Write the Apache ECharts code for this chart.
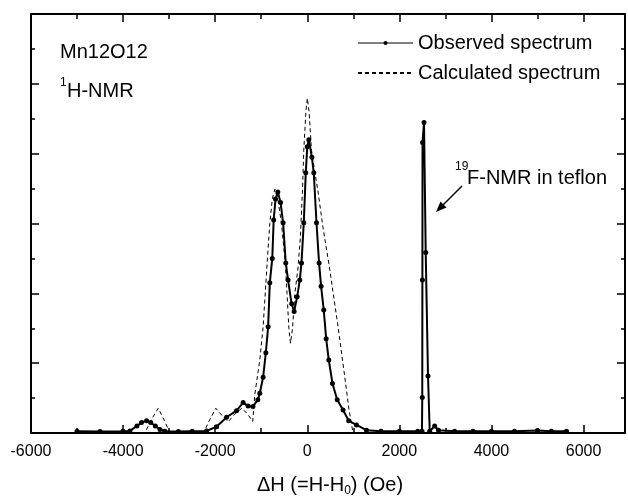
<!DOCTYPE html>
<html>
<head>
<meta charset="utf-8">
<script src="https://cdn.jsdelivr.net/npm/echarts@6/dist/echarts.min.js"></script>
<style>
html, body { margin: 0; padding: 0; background: #fff; }
#chart { width: 628px; height: 496px; }
</style>
</head>
<body>
<div id="chart"></div>
<script>
// observed spectrum, ΔH (Oe) and intensity (arb.)
var observedH = [-5000, -4500, -4000, -3852, -3700, -3600, -3490, -3400, -3300, -3200, -3092, -2800, -2500, -2188,
  -1970, -1753, -1536, -1393, -1285, -1180, -1074, -1031, -959, -900, -850, -814, -760, -730, -690, -640,
  -580, -525, -467, -417, -340, -286, -220, -163, -126, -76, -33, 0, 33, 100, 141, 200, 256, 300, 358, 410,
  467, 547, 650, 777, 900, 1068, 1285, 1600, 2000, 2400, 2491, 2497, 2500, 2503, 2535, 2572, 2622, 2659,
  2767, 2850, 3200, 3600, 4000, 4500, 5000, 5300, 5630];
var observedI = [0.05, 0.04, 0.05, 0.06, 0.2, 0.3, 0.35, 0.3, 0.2, 0.1, 0.05, 0.04, 0.05, 0.06,
  0.18, 0.45, 0.64, 0.87, 0.77, 0.76, 0.95, 1.14, 1.6, 2.3, 3.04, 4.3, 5.0, 6.1, 6.7, 6.9,
  6.6, 6.02, 4.87, 4.38, 3.7, 3.48, 3.9, 4.38, 4.87, 6.02, 7.45, 8.2, 8.4, 7.9, 7.45, 6.02, 4.87, 4.2, 3.52, 2.7,
  2.09, 1.42, 0.95, 0.66, 0.35, 0.23, 0.08, 0.05, 0.05, 0.05, 0.05, 1.02, 4.38, 8.32, 8.89, 5.17, 1.63, 0.05,
  0.2, 0.08, 0.05, 0.05, 0.05, 0.05, 0.07, 0.05, 0.05];

// calculated spectrum
var calculatedH = [-3600, -3526, -3400, -3237, -3100, -2984, -2250, -2150, -1986, -1850, -1718, -1570, -1421, -1300,
  -1185, -1140, -1031, -959, -870, -814, -760, -705, -640, -560, -480, -440, -400, -365, -320, -270, -206,
  -150, -104, -76, -30, 0, 40, 91, 160, 228, 340, 475, 668, 814, 907, 994, 1100];
var calculatedI = [0, 0, 0.35, 0.71, 0.35, 0, 0, 0.3, 0.71, 0.5, 0.32, 0.55, 0.71, 0.55,
  0.33, 1.1, 2.09, 3.04, 4.9, 6.0, 6.7, 6.98, 6.7, 6.0, 4.9, 4.0, 3.0, 2.57, 3.0, 4.0, 4.67,
  5.6, 6.96, 8.1, 9.2, 9.59, 9.2, 8.1, 7.5, 6.96, 5.9, 4.8, 3.05, 1.61, 0.66, 0, 0];

var xMin = -6000, xMax = 6900, xStep = 2000;
var yMin = 0, yMax = 12, yStep = 2;

var FONT = "'Liberation Sans', Arial, sans-serif";

function pairs(xs, ys) {
  var out = [];
  for (var i = 0; i < xs.length; i++) out.push([xs[i], ys[i]]);
  return out;
}

var myChart = echarts.init(document.getElementById('chart'), null, { renderer: 'canvas' });

var xBase = {
  type: 'value',
  min: xMin,
  max: xMax,
  interval: xStep,
  axisLine: { show: true, onZero: false, lineStyle: { color: '#000', width: 2 } },
  axisTick: { show: true, inside: true, length: 8, lineStyle: { color: '#000', width: 1.5 } },
  minorTick: { show: true, splitNumber: 2, length: 5, lineStyle: { color: '#000', width: 1.5 } },
  splitLine: { show: false }
};
var yBase = {
  type: 'value',
  min: yMin,
  max: yMax,
  interval: yStep,
  axisLine: { show: true, onZero: false, lineStyle: { color: '#000', width: 2 } },
  axisTick: { show: true, inside: true, length: 8, lineStyle: { color: '#000', width: 1.5 } },
  minorTick: { show: true, splitNumber: 2, length: 4, lineStyle: { color: '#000', width: 1.5 } },
  axisLabel: { show: false },
  splitLine: { show: false }
};

var option = {
  animation: false,
  backgroundColor: '#fff',
  grid: { left: 31, right: 3, top: 14, bottom: 63, containLabel: false },
  legend: {
    orient: 'vertical',
    left: 357,
    top: 33,
    padding: 0,
    itemWidth: 55,
    itemHeight: 5,
    itemGap: 10,
    textStyle: { fontSize: 20, color: '#000', fontFamily: FONT },
    data: [
      { name: 'Observed spectrum', lineStyle: { width: 1 } },
      { name: 'Calculated spectrum', itemStyle: { color: 'rgba(0,0,0,0)', borderWidth: 0 } }
    ]
  },
  xAxis: [
    Object.assign({}, xBase, {
      position: 'bottom',
      axisLabel: {
        show: true, margin: 11, color: '#000', fontSize: 16, fontFamily: FONT,
        showMaxLabel: false,
        formatter: function (v) { return v % xStep === 0 ? String(v) : ''; }
      }
    }),
    Object.assign({}, xBase, { position: 'top', axisLabel: { show: false } })
  ],
  yAxis: [
    Object.assign({}, yBase, { position: 'left' }),
    Object.assign({}, yBase, { position: 'right' })
  ],
  graphic: [
    { type: 'text', x: 60, y: 52, style: { text: 'Mn12O12', font: '20px ' + FONT, fill: '#000', verticalAlign: 'middle' } },
    { type: 'text', x: 60, y: 83, style: { text: '1', font: '12px ' + FONT, fill: '#000', verticalAlign: 'middle' } },
    { type: 'text', x: 67, y: 91, style: { text: 'H-NMR', font: '20px ' + FONT, fill: '#000', verticalAlign: 'middle' } },
    { type: 'text', x: 455, y: 167, style: { text: '19', font: '12px ' + FONT, fill: '#000', verticalAlign: 'middle' } },
    { type: 'text', x: 467, y: 178, style: { text: 'F-NMR in teflon', font: '20px ' + FONT, fill: '#000', verticalAlign: 'middle' } },
    // arrow pointing at the teflon line
    { type: 'line', shape: { x1: 462, y1: 186, x2: 442, y2: 206 }, style: { stroke: '#000', lineWidth: 1.5 } },
    { type: 'polygon', shape: { points: [[436, 212], [446.5, 207.5], [440.5, 201.5]] }, style: { fill: '#000' } },
    {
      type: 'text', x: 330, y: 485,
      style: {
        text: '{a|ΔH (=H-H}{s|0}{a|) (Oe)}',
        align: 'center', verticalAlign: 'middle', fill: '#000',
        rich: {
          a: { fontSize: 20, fontFamily: FONT, lineHeight: 22 },
          s: { fontSize: 12, fontFamily: FONT, lineHeight: 12, padding: [12, 0, 0, 0] }
        }
      }
    }
  ],
  series: [
    {
      name: 'Observed spectrum',
      type: 'line',
      xAxisIndex: 0,
      yAxisIndex: 0,
      data: pairs(observedH, observedI),
      symbol: 'circle',
      symbolSize: 5,
      showSymbol: true,
      itemStyle: { color: '#000' },
      lineStyle: { color: '#000', width: 2 },
      z: 3
    },
    {
      name: 'Calculated spectrum',
      type: 'line',
      xAxisIndex: 0,
      yAxisIndex: 0,
      data: pairs(calculatedH, calculatedI),
      showSymbol: false,
      symbol: 'none',
      itemStyle: { color: '#000' },
      lineStyle: { color: '#000', width: 1, type: [4, 3] },
      z: 2
    }
  ]
};

myChart.setOption(option);
</script>
</body>
</html>
